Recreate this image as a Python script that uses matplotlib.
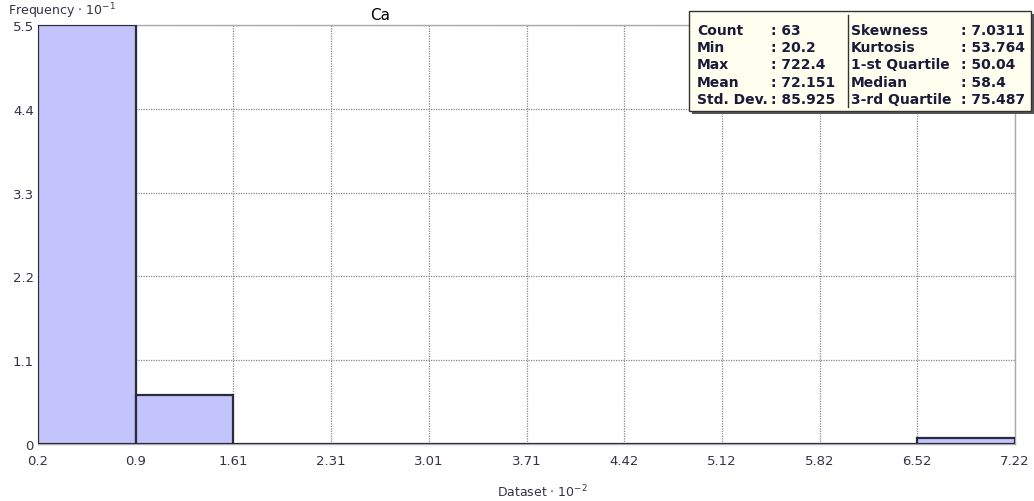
import matplotlib.pyplot as plt
from matplotlib.patches import Rectangle

# histogram of Ca, values scaled by 10^-2, frequencies by 10^-1
data_min = 0.202
data_max = 7.224
n_bins = 10
freqs = [5.5, 0.64, 0, 0, 0, 0, 0, 0, 0, 0.08]
x_tick_labels = ["0.2", "0.9", "1.61", "2.31", "3.01", "3.71", "4.42", "5.12", "5.82", "6.52", "7.22"]
y_ticks = [0, 1.1, 2.2, 3.3, 4.4, 5.5]
y_tick_labels = ["0", "1.1", "2.2", "3.3", "4.4", "5.5"]

stats_left = [("Count", ": 63"), ("Min", ": 20.2"), ("Max", ": 722.4"),
              ("Mean", ": 72.151"), ("Std. Dev.", ": 85.925")]
stats_right = [("Skewness", ": 7.0311"), ("Kurtosis", ": 53.764"), ("1-st Quartile", ": 50.04"),
               ("Median", ": 58.4"), ("3-rd Quartile", ": 75.487")]

W, H = 1034, 502
fig = plt.figure(figsize=(W / 100, H / 100), dpi=100)
ax = fig.add_axes([38 / W, 1 - 445 / H, (1015 - 38) / W, (445 - 26) / H])

width = (data_max - data_min) / n_bins
edges = [data_min + i * width for i in range(n_bins + 1)]

ax.bar(edges[:-1], freqs, width=width, align="edge", color="#c4c4fc",
       edgecolor="#2b2b3b", linewidth=1.6, zorder=3)

ax.set_xlim(data_min, data_max)
ax.set_ylim(0, 5.5)
ax.set_xticks(edges)
ax.set_xticklabels(x_tick_labels)
ax.set_yticks(y_ticks)
ax.set_yticklabels(y_tick_labels)
ax.tick_params(axis="x", length=0, labelsize=9.5, colors="#333344", pad=7)
ax.tick_params(axis="y", length=0, labelsize=9.5, colors="#333344", pad=3)

ax.grid(True, color="#888888", linestyle=(0, (1, 1)), linewidth=0.9, zorder=0)
for side in ["top", "right", "bottom"]:
    ax.spines[side].set_color("#aaaaaa")
    ax.spines[side].set_linewidth(1.0)
ax.spines["left"].set_color("#444444")

fig.text(8 / W, 1 - 11 / H, r"Frequency $\cdot$ 10$^{\mathregular{-1}}$", fontsize=9,
         color="#333344", va="center", ha="left")
fig.text(497 / W, 1 - 492 / H, r"Dataset $\cdot$ 10$^{\mathregular{-2}}$", fontsize=9,
         color="#333344", va="center", ha="left")
fig.text(380 / W, 1 - 16 / H, "Ca", fontsize=11, color="black", va="center", ha="center")

# stats box with drop shadow
bx0, by0, bx1, by1 = 689, 12, 1031, 112
box_w, box_h = (bx1 - bx0) / W, (by1 - by0) / H
fig.patches.append(Rectangle(((bx0 + 3) / W, 1 - (by1 + 3) / H), box_w, box_h,
                             transform=fig.transFigure, facecolor="#555555",
                             edgecolor="none", zorder=5))
fig.patches.append(Rectangle((bx0 / W, 1 - by1 / H), box_w, box_h,
                             transform=fig.transFigure, facecolor="#fffff0",
                             edgecolor="#333333", linewidth=1.0, zorder=6))
fig.add_artist(plt.Line2D([848 / W, 848 / W], [1 - 16 / H, 1 - 108 / H],
                          color="#333333", linewidth=1.0, zorder=7))

rows_y = [31, 48, 65, 83, 100]
for (name, val), y in zip(stats_left, rows_y):
    fig.text(697 / W, 1 - y / H, name, fontsize=10, fontweight="bold", color="#1a1a3a",
             va="center", ha="left", zorder=8)
    fig.text(771 / W, 1 - y / H, val, fontsize=10, fontweight="bold", color="#1a1a3a",
             va="center", ha="left", zorder=8)
for (name, val), y in zip(stats_right, rows_y):
    fig.text(851 / W, 1 - y / H, name, fontsize=10, fontweight="bold", color="#1a1a3a",
             va="center", ha="left", zorder=8)
    fig.text(961 / W, 1 - y / H, val, fontsize=10, fontweight="bold", color="#1a1a3a",
             va="center", ha="left", zorder=8)

fig.savefig("out.png", dpi=100)
